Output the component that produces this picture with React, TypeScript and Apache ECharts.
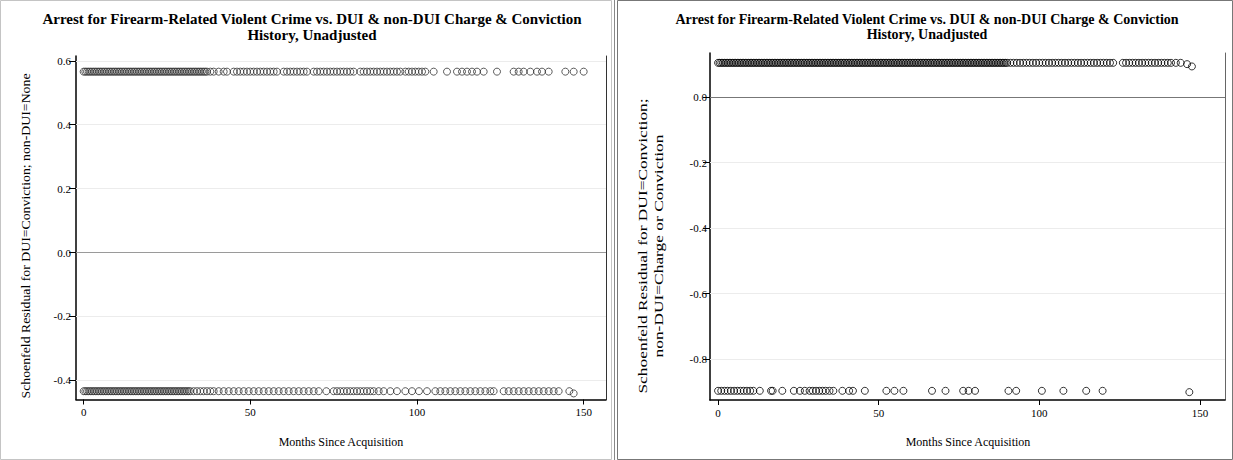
import { useEffect, useRef } from "react";
import * as echarts from "echarts";

const TITLE_LINE_1 = "Arrest for Firearm-Related Violent Crime vs. DUI & non-DUI Charge & Conviction";
const TITLE_LINE_2 = "History, Unadjusted";
const X_TITLE = "Months Since Acquisition";
const LEFT_Y_TITLE = "Schoenfeld Residual for DUI=Conviction; non-DUI=None";
const RIGHT_Y_TITLE = "Schoenfeld Residual for DUI=Conviction;\nnon-DUI=Charge or Conviction";

const xTicks = [0, 50, 100, 150];
const leftYTicks = [-0.4, -0.2, 0, 0.2, 0.4, 0.6];
const rightYTicks = [-0.8, -0.6, -0.4, -0.2, 0];

// Left panel (DUI=Conviction; non-DUI=None)
const leftUpperResidual = 0.566;
const leftUpperMonths = [
  0, 0.5, 1, 1.5, 2, 2.5, 3, 3.5, 4, 4.5, 5, 5.5, 6, 6.5, 7, 7.5, 8, 8.5, 9, 9.5, 10, 10.5, 11, 11.5, 12, 12.5, 13, 13.5,
  14, 14.5, 15, 15.5, 16, 16.5, 17, 17.5, 18, 18.5, 19, 19.5, 20, 20.5, 21, 21.5, 22, 22.5, 23, 23.5, 24, 24.5, 25, 25.5,
  26, 26.5, 27, 27.5, 28, 28.5, 29, 29.5, 30, 30.5, 31, 31.5, 32, 32.5, 33, 33.5, 34, 34.5, 35, 35.5, 36, 36.5, 37,
  38, 39, 40.5, 42, 43, 45, 46, 47, 48, 49, 50, 51, 52, 53, 54, 55, 56, 57, 58, 60, 61, 62, 63, 64, 65, 66, 67, 69, 70,
  71, 72, 73, 74, 75, 76, 77, 78, 79, 80, 81, 83, 84, 85, 86, 87, 88, 89, 90, 91, 92, 93, 94, 95, 96.5, 97.5, 98.5, 99.5,
  100.5, 101.5, 102.5, 105, 109, 112, 113.5, 115, 116.5, 118, 120, 124, 129, 130.5, 132, 134, 136, 137.5, 139.5, 144.5,
  147, 150,
];
const leftLowerResidual = -0.434;
const leftLowerMonths = [
  0, 0.5, 1, 1.5, 2, 2.5, 3, 3.5, 4, 4.5, 5, 5.5, 6, 6.5, 7, 7.5, 8, 8.5, 9, 9.5, 10, 10.5, 11, 11.5, 12, 12.5, 13, 13.5,
  14, 14.5, 15, 15.5, 16, 16.5, 17, 17.5, 18, 18.5, 19, 19.5, 20, 20.5, 21, 21.5, 22, 22.5, 23, 23.5, 24, 24.5, 25, 25.5,
  26, 26.5, 27, 27.5, 28, 28.5, 29, 29.5, 30, 30.5, 31, 31.5, 32, 33, 34, 35, 36, 37, 38, 39, 40.5, 42, 43.5, 45, 46.5,
  48, 49.5, 51, 52.5, 54, 55.5, 57, 58.5, 60, 61.5, 63, 64.5, 66, 67.5, 69, 70.5, 72.8, 75, 76, 77, 78, 79, 80, 81, 82,
  83, 84, 85, 86, 87, 88.5, 90, 92, 94, 96.5, 98.5, 100.6, 103, 105.5, 107, 108.5, 110, 111.5, 113, 114.5, 116, 117.5,
  119, 120.5, 122, 123, 126, 127.5, 129, 130.5, 132, 133.5, 135, 136.5, 138, 139.5, 141, 142.5, 145.7,
];
const leftLowerTail = [[147, -0.441]];

// Right panel (DUI=Conviction; non-DUI=Charge or Conviction)
const rightUpperResidual = 0.104;
const rightUpperMonths = [
  0, 0.5, 1, 1.5, 2, 2.5, 3, 3.5, 4, 4.5, 5, 5.5, 6, 6.5, 7, 7.5, 8, 8.5, 9, 9.5, 10, 10.5, 11, 11.5, 12, 12.5, 13, 13.5,
  14, 14.5, 15, 15.5, 16, 16.5, 17, 17.5, 18, 18.5, 19, 19.5, 20, 20.5, 21, 21.5, 22, 22.5, 23, 23.5, 24, 24.5, 25, 25.5,
  26, 26.5, 27, 27.5, 28, 28.5, 29, 29.5, 30, 30.5, 31, 31.5, 32, 32.5, 33, 33.5, 34, 34.5, 35, 35.5, 36, 36.5, 37, 37.5,
  38, 38.5, 39, 39.5, 40, 40.5, 41, 41.5, 42, 42.5, 43, 43.5, 44, 44.5, 45, 45.5, 46, 46.5, 47, 47.5, 48, 48.5, 49, 49.5,
  50, 50.5, 51, 51.5, 52, 52.5, 53, 53.5, 54, 54.5, 55, 55.5, 56, 56.5, 57, 57.5, 58, 58.5, 59, 59.5, 60, 60.5, 61, 61.5,
  62, 62.5, 63, 63.5, 64, 64.5, 65, 65.5, 66, 66.5, 67, 67.5, 68, 68.5, 69, 69.5, 70, 70.5, 71, 71.5, 72, 72.5, 73, 73.5,
  74, 74.5, 75, 75.5, 76, 76.5, 77, 77.5, 78, 78.5, 79, 79.5, 80, 80.5, 81, 81.5, 82, 82.5, 83, 83.5, 84, 84.5, 85, 85.5,
  86, 86.5, 87, 87.5, 88, 88.5, 89, 89.5, 90, 91, 92, 93, 94, 95, 96, 97, 98, 99, 100, 101, 102, 103, 104, 105, 106, 107,
  108, 109, 110, 111, 112, 113, 114, 115, 116, 117, 118, 119, 120, 121, 122, 123, 126, 127, 128, 129, 130, 131, 132,
  133, 134, 135, 136, 137, 138, 139, 140, 141, 142.5, 144,
];
const rightUpperTail = [
  [146, 0.1],
  [147.5, 0.093],
];
const rightLowerResidual = -0.896;
const rightLowerMonths = [
  0, 1, 2, 3, 4, 5, 6, 7, 8, 9, 10, 11, 13, 16.5, 17, 20, 23.6, 25.5, 27, 28.5, 29.5, 30.5, 31.5, 32.5, 33.5, 34.7, 35.9,
  38.7, 40.8, 42, 45.7, 52.4, 54.9, 57.7, 66.6, 70.8, 76.3, 78, 80, 90.4, 92.8, 100.8, 107.5, 114.6, 119.7,
];
const rightLowerTail = [[146.7, -0.9]];

const FONT = "'Liberation Serif', 'Times New Roman', serif";

export default function App() {
  const ref = useRef<HTMLDivElement>(null);

  useEffect(() => {
    if (!ref.current) return;
    const chart = echarts.init(ref.current, undefined, { renderer: "svg" });

    const leftData = [
      ...leftUpperMonths.map((m) => [m, leftUpperResidual]),
      ...leftLowerMonths.map((m) => [m, leftLowerResidual]),
      ...leftLowerTail,
    ];
    const rightData = [
      ...rightUpperMonths.map((m) => [m, rightUpperResidual]),
      ...rightUpperTail,
      ...rightLowerMonths.map((m) => [m, rightLowerResidual]),
      ...rightLowerTail,
    ];

    const xAxisBase = (gridIndex: number, min: number, max: number) => ({
      type: "value",
      gridIndex,
      min,
      max,
      axisLine: { show: true, onZero: false, lineStyle: { color: "#000", width: 1.5 } },
      axisTick: { show: true, customValues: xTicks, length: 5, lineStyle: { color: "#000", width: 1 } },
      axisLabel: { customValues: xTicks, margin: 7, color: "#000", fontFamily: FONT, fontSize: 11 },
      splitLine: { show: false },
    });

    const yAxisBase = (gridIndex: number, min: number, max: number, ticks: number[], margin: number) => ({
      type: "value",
      gridIndex,
      min,
      max,
      axisLine: { show: true, onZero: false, lineStyle: { color: "#000", width: 1.5 } },
      axisTick: { show: true, customValues: ticks, length: 7, lineStyle: { color: "#000", width: 1 } },
      axisLabel: {
        customValues: ticks,
        margin,
        color: "#000",
        fontFamily: FONT,
        fontSize: 11,
        formatter: (v: number) => (Math.abs(v) < 1e-9 ? "0.0" : v.toFixed(1)),
      },
      splitLine: { show: false },
    });

    const frameAxis = (gridIndex: number, min: number, max: number, color: string) => ({
      type: "value",
      gridIndex,
      position: "right",
      min,
      max,
      axisLine: { show: true, onZero: false, lineStyle: { color, width: 1 } },
      axisTick: { show: false },
      axisLabel: { show: false },
      splitLine: { show: false },
    });

    const gridLines = (ticks: number[], zeroColor: string) => ({
      silent: true,
      symbol: "none",
      label: { show: false },
      animation: false,
      data: ticks.map((v) => ({
        yAxis: v,
        lineStyle:
          Math.abs(v) < 1e-9
            ? { color: zeroColor, width: 1, type: "solid" }
            : { color: "#ececec", width: 1, type: "solid" },
      })),
    });

    const textStyle = (size: number, bold = false) => ({
      fontFamily: FONT,
      fontSize: size,
      fontWeight: bold ? "bold" : "normal",
      fill: "#000",
      textAlign: "center",
      textVerticalAlign: "middle",
    });

    chart.setOption({
      animation: false,
      backgroundColor: "#fff",
      grid: [
        { left: 76, top: 56, width: 530, height: 343.5 },
        { left: 710, top: 53, width: 515, height: 347 },
      ],
      xAxis: [xAxisBase(0, -2.3, 156.7), xAxisBase(1, -2.5, 157.8)],
      yAxis: [
        yAxisBase(0, -0.46, 0.615, leftYTicks, 5),
        yAxisBase(1, -0.924, 0.134, rightYTicks, 3),
        frameAxis(0, -0.46, 0.615, "#333"),
        frameAxis(1, -0.924, 0.134, "#666"),
      ],
      series: [
        {
          type: "scatter",
          xAxisIndex: 0,
          yAxisIndex: 0,
          data: leftData,
          symbol: "circle",
          symbolSize: 7,
          itemStyle: { color: "rgba(0,0,0,0)", borderColor: "#333", borderWidth: 1 },
          markLine: gridLines(leftYTicks, "#9a9a9a"),
          z: 3,
        },
        {
          type: "scatter",
          xAxisIndex: 1,
          yAxisIndex: 1,
          data: rightData,
          symbol: "circle",
          symbolSize: 7,
          itemStyle: { color: "rgba(0,0,0,0)", borderColor: "#000", borderWidth: 1 },
          markLine: gridLines(rightYTicks, "#777"),
          z: 3,
        },
      ],
      graphic: [
        { type: "rect", shape: { x: 0.5, y: 0.5, width: 611, height: 459 }, style: { fill: "none", stroke: "#c4c4c4", lineWidth: 1 }, z: 0 },
        { type: "line", shape: { x1: 614.5, y1: 0, x2: 614.5, y2: 460 }, style: { stroke: "#888", lineWidth: 1 } },
        { type: "rect", shape: { x: 617.5, y: 0.5, width: 615, height: 459 }, style: { fill: "none", stroke: "#777", lineWidth: 1 }, z: 0 },
        { type: "text", x: 312, y: 19, style: { text: TITLE_LINE_1, ...textStyle(15, true) } },
        { type: "text", x: 312, y: 35, style: { text: TITLE_LINE_2, ...textStyle(15, true) } },
        { type: "text", x: 927, y: 19, style: { text: TITLE_LINE_1, ...textStyle(14, true) } },
        { type: "text", x: 927, y: 34, style: { text: TITLE_LINE_2, ...textStyle(14, true) } },
        { type: "text", x: 341, y: 442, style: { text: X_TITLE, ...textStyle(12) } },
        { type: "text", x: 968, y: 442, style: { text: X_TITLE, ...textStyle(12) } },
        {
          type: "text",
          x: 26,
          y: 236,
          rotation: Math.PI / 2,
          scaleX: 1.15,
          style: { text: LEFT_Y_TITLE, ...textStyle(12) },
        },
        {
          type: "text",
          x: 651,
          y: 246,
          rotation: Math.PI / 2,
          scaleX: 1.45,
          style: { text: RIGHT_Y_TITLE, lineHeight: 16, ...textStyle(12) },
        },
      ],
    });

    return () => chart.dispose();
  }, []);

  return <div ref={ref} style={{ position: "fixed", left: 0, top: 0, width: 1233, height: 460 }} />;
}
